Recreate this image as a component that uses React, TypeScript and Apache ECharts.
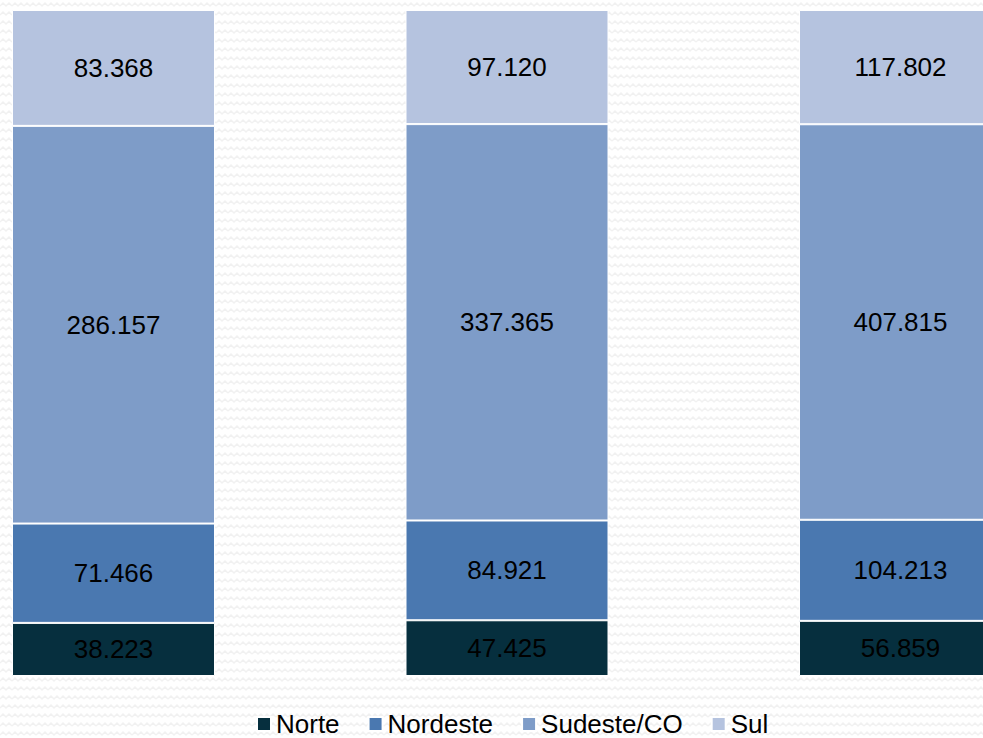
import React, { useEffect, useRef } from "react";
import * as echarts from "echarts";

const categories = ["Ano 1", "Ano 2", "Ano 3"];
const seriesNames = ["Norte", "Nordeste", "Sudeste/CO", "Sul"];
const norte = [38223, 47425, 56859];
const nordeste = [71466, 84921, 104213];
const sudeste = [286157, 337365, 407815];
const sul = [83368, 97120, 117802];
const colors = ["#062F3E", "#4A78B0", "#7E9CC8", "#B5C3DF"];

const fmt = (v: number) => {
  const s = String(Math.round(v));
  return s.replace(/\B(?=(\d{3})+(?!\d))/g, ".");
};

function makePattern() {
  const c = document.createElement("canvas");
  c.width = 12;
  c.height = 9;
  const ctx = c.getContext("2d");
  if (ctx) {
    ctx.fillStyle = "#ffffff";
    ctx.fillRect(0, 0, 12, 9);
    ctx.strokeStyle = "#f1f1f1";
    ctx.lineWidth = 1.5;
    ctx.beginPath();
    ctx.moveTo(0, 6);
    ctx.lineTo(3, 3);
    ctx.lineTo(6, 6);
    ctx.lineTo(9, 3);
    ctx.lineTo(12, 6);
    ctx.stroke();
  }
  return c;
}

export default function App() {
  const ref = useRef<HTMLDivElement>(null);
  useEffect(() => {
    if (!ref.current) return;
    const chart = echarts.init(ref.current, undefined, { renderer: "svg" });
    const raw = [norte, nordeste, sudeste, sul];
    const totals = categories.map((_, i) => raw.reduce((a, s) => a + s[i], 0));
    chart.setOption({
      animation: false,
      backgroundColor: { image: makePattern(), repeat: "repeat" },
      grid: { left: 113.5, right: 82.5, top: 10, bottom: 62 },
      xAxis: {
        type: "category",
        data: categories,
        boundaryGap: false,
        show: false,
      },
      yAxis: { type: "value", min: 0, max: 100, show: false },
      legend: {
        top: 706,
        left: 251,
        itemWidth: 14,
        itemHeight: 14,
        itemGap: 28,
        icon: "rect",
        textStyle: { fontSize: 26, color: "#000", fontFamily: "Liberation Sans, Arial, sans-serif" },
        data: seriesNames,
      },
      series: raw.map((arr, si) => ({
        name: seriesNames[si],
        type: "bar",
        stack: "total",
        clip: false,
        barWidth: 203,
        itemStyle: { color: colors[si], borderColor: "#ffffff", borderWidth: 1 },
        label: {
          show: true,
          position: "inside",
          color: "#000",
          fontSize: 26,
          fontFamily: "Liberation Sans, Arial, sans-serif",
          formatter: (p: any) => fmt(arr[p.dataIndex]),
        },
        data: arr.map((v, i) => (v / totals[i]) * 100),
      })),
    });
    return () => chart.dispose();
  }, []);
  return <div ref={ref} style={{ width: 983, height: 738, position: "absolute", left: 0, top: 0 }} />;
}
